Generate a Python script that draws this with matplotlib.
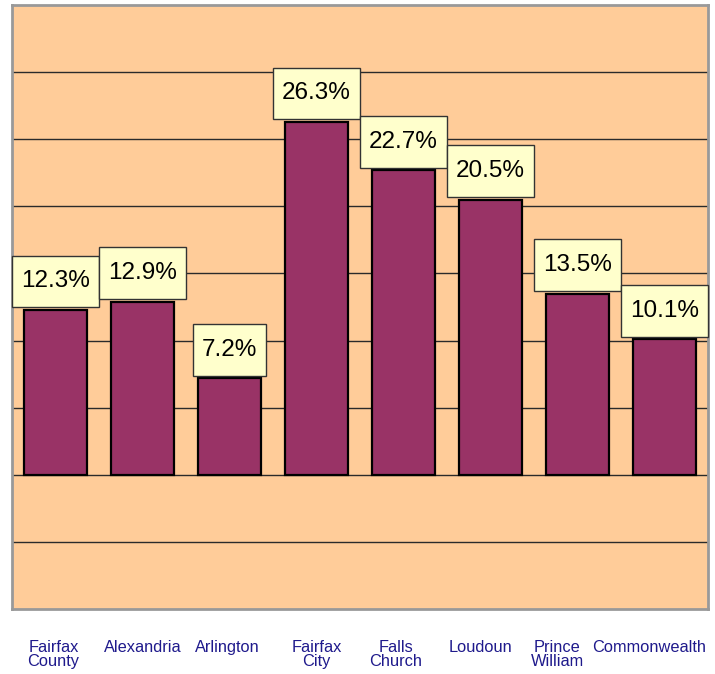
import matplotlib
matplotlib.use('Agg')
import matplotlib.pyplot as plt
import matplotlib.transforms as mtrans
from matplotlib.path import Path
import numpy as np

# county names and percentages
counties = ['Fairfax\nCounty', 'Alexandria', 'Arlington', 'Fairfax\nCity',
            'Falls\nChurch', 'Loudoun', 'Prince\nWilliam', 'Commonwealth']
pct = [12.3, 12.9, 7.2, 26.3, 22.7, 20.5, 13.5, 10.1]
grid_vals = [-5, 0, 5, 10, 15, 20, 25, 30]
# small sideways nudges (pixels) of the category labels, as in the original
label_shift = [-2, 0, -2, 0, -8, -10, -20, -15]

plt.rcParams['font.family'] = ['Liberation Sans', 'DejaVu Sans']


def label_box(x0, y0, width, height, mutation_size):
    # plain rectangle, more padding top/bottom than left/right
    px = 0.37 * mutation_size
    py = 0.61 * mutation_size
    x0, y0 = x0 - px, y0 - py
    x1, y1 = x0 + width + 2 * px, y0 + height + 2 * py
    return Path([(x0, y0), (x1, y0), (x1, y1), (x0, y1), (x0, y0)], closed=True)


fig = plt.figure(figsize=(7.15, 6.74), dpi=100)
ax = fig.add_axes([0.0168, 0.0964, 0.9734, 0.8962])
ax.set_facecolor('#FFCC99')

x = np.arange(len(counties))
for g in grid_vals:
    ax.axhline(g, color='#2a2a2a', lw=1.0, zorder=1)

bars = ax.bar(x, pct, width=0.735, color='#993366', edgecolor='black',
              linewidth=1.6, zorder=2)

for xi, v in zip(x, pct):
    ax.annotate('{:.1f}%'.format(v), xy=(xi, v), xytext=(0, 12.5),
                textcoords='offset points', ha='center', va='bottom',
                fontsize=17.5, color='black', zorder=4,
                bbox=dict(boxstyle=label_box, fc='#FFFFCC',
                          ec='#333333', lw=1.0))

ax.set_xlim(-0.5, len(counties) - 0.5)
ax.set_ylim(-10, 35)
ax.set_yticks([])
ax.set_xticks(x)
ax.set_xticklabels(counties, fontsize=11.8, color='#1f1a8c', linespacing=0.95)
ax.tick_params(axis='x', length=0, pad=22)
for lab, dx in zip(ax.get_xticklabels(), label_shift):
    lab.set_transform(lab.get_transform() +
                      mtrans.ScaledTranslation(dx / 100, 0, fig.dpi_scale_trans))

for s in ax.spines.values():
    s.set_color('#999999')
    s.set_linewidth(2)

fig.savefig('out.png', dpi=100)
